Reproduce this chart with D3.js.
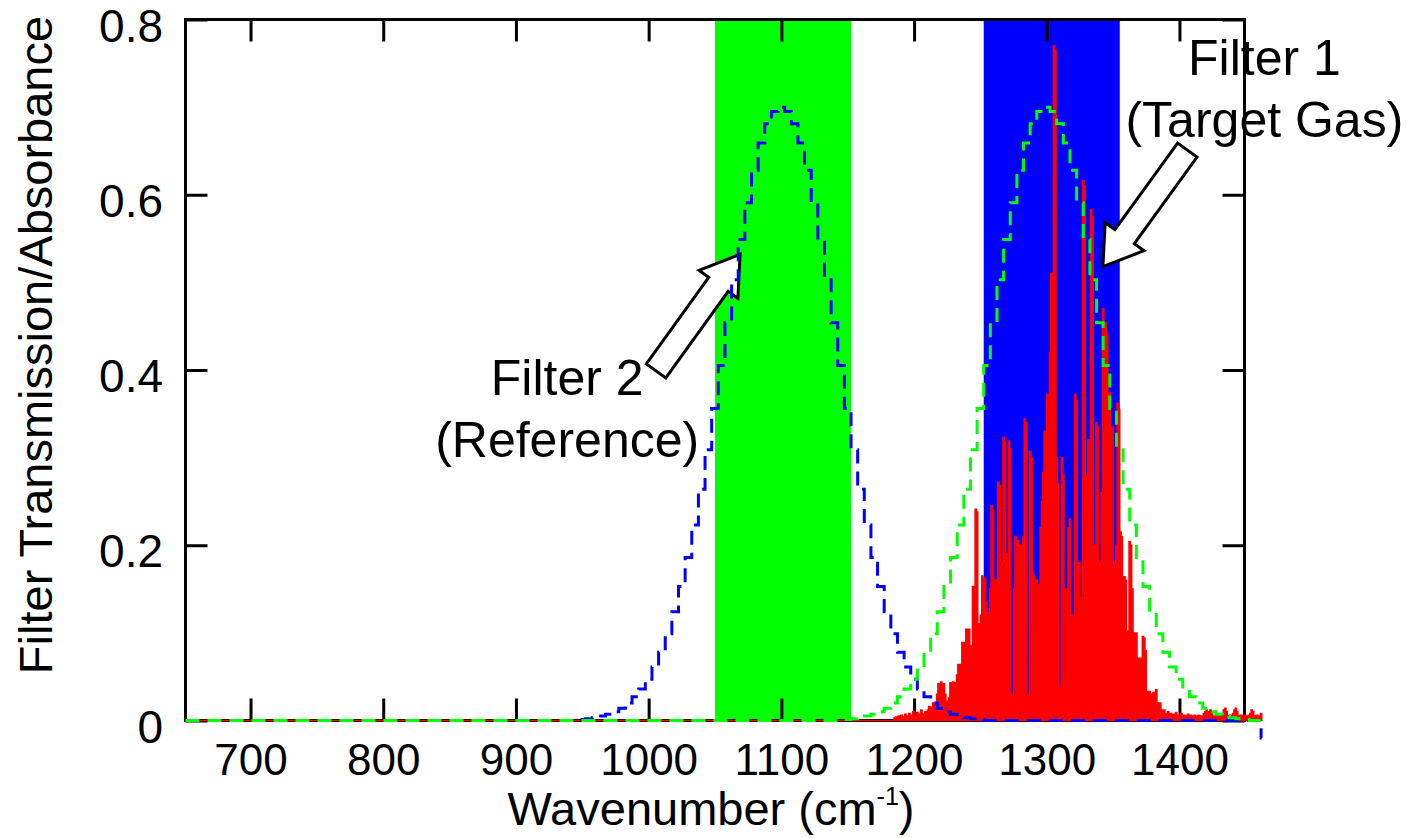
<!DOCTYPE html>
<html>
<head>
<meta charset="utf-8">
<script src="https://cdn.jsdelivr.net/npm/d3@7"></script>
<style>
  html, body { margin: 0; padding: 0; background: #fff; }
  svg { display: block; font-family: "Liberation Sans", Arial, sans-serif; }
</style>
</head>
<body>
<svg id="chart" width="1417" height="838"></svg>
<script>
// ---- data ----
const xTicks = [700, 800, 900, 1000, 1100, 1200, 1300, 1400];
const yTicks = [0, 0.2, 0.4, 0.6, 0.8];
const yTickLabels = ["0", "0.2", "0.4", "0.6", "0.8"];

// filter pass bands (cm-1)
const bandStart = [1050, 1252.5];
const bandEnd = [1152.5, 1355];
const bandColors = ["#00ff00", "#0000ff"];

// filter transmission curves: same profile, two centres
const filterCenters = [1100, 1300];
const filterColors = ["#0000ff", "#00ff00"];
const filterEndValues = [-0.02, 0];
const filterOffsets = [-155, -150, -145, -140, -135, -130, -125, -120, -115, -110, -105, -100,
  -95, -90, -85, -80, -75, -70, -65, -60, -55, -50, -45, -40, -35, -30, -25, -20, -15, -10, -5,
  0, 5, 10, 15, 20, 25, 30, 35, 40, 45, 50, 55, 60, 65, 70, 75, 80, 85, 90, 95,
  100, 105, 110, 115, 120, 125, 130, 135, 140, 145, 150, 155];
const filterProfile = [0.000, 0.001, 0.002, 0.003, 0.005, 0.007, 0.010, 0.014, 0.020, 0.027, 0.036, 0.047,
  0.061, 0.078, 0.099, 0.124, 0.153, 0.186, 0.223, 0.264, 0.309, 0.356, 0.405, 0.454, 0.503, 0.549,
  0.591, 0.628, 0.659, 0.681, 0.695, 0.700, 0.695, 0.681, 0.659, 0.628, 0.591, 0.549, 0.503, 0.454,
  0.405, 0.356, 0.309, 0.264, 0.223, 0.186, 0.153, 0.124, 0.099, 0.078, 0.061, 0.047, 0.036, 0.027,
  0.020, 0.014, 0.010, 0.007, 0.005, 0.003, 0.002, 0.001, 0.000];

// target gas absorbance, 1 cm-1 steps from 1185 cm-1
const spectrumStart = 1185;
const spectrumValues = [
  0.003, 0.004, 0.002, 0.005, 0.003, 0.006, 0.004, 0.003, 0.007, 0.005,
  0.004, 0.008, 0.005, 0.006, 0.010, 0.006, 0.005, 0.009, 0.007, 0.006,
  0.012, 0.008, 0.007, 0.010, 0.009,
  0.012, 0.016, 0.010, 0.015, 0.020, 0.014, 0.018, 0.030, 0.042, 0.035,
  0.044, 0.038, 0.042, 0.030, 0.020, 0.022, 0.026, 0.043, 0.036, 0.044,
  0.040, 0.043, 0.052, 0.064, 0.055, 0.064, 0.089, 0.075, 0.089, 0.104,
  0.098, 0.104, 0.070, 0.085, 0.153, 0.120, 0.241, 0.238, 0.110, 0.089,
  0.120, 0.165, 0.150, 0.162, 0.135, 0.123, 0.118, 0.150, 0.245, 0.240,
  0.160, 0.150, 0.160, 0.272, 0.268, 0.170, 0.180, 0.323, 0.318, 0.190,
  0.180, 0.319, 0.310, 0.030, 0.020, 0.150, 0.210, 0.205, 0.205, 0.060,
  0.200, 0.195, 0.210, 0.344, 0.340, 0.030, 0.025, 0.307, 0.300, 0.170,
  0.165, 0.100, 0.160, 0.155, 0.030, 0.220, 0.250, 0.283, 0.330, 0.300,
  0.372, 0.365, 0.420, 0.510, 0.505, 0.770, 0.765, 0.300, 0.270, 0.040,
  0.030, 0.300, 0.280, 0.030, 0.150, 0.040, 0.220, 0.230, 0.030, 0.120,
  0.050, 0.372, 0.365, 0.040, 0.180, 0.140, 0.040, 0.616, 0.610, 0.030,
  0.280, 0.320, 0.040, 0.583, 0.575, 0.030, 0.200, 0.340, 0.335, 0.040,
  0.180, 0.260, 0.470, 0.300, 0.454, 0.440, 0.200, 0.374, 0.240, 0.335,
  0.180, 0.120, 0.200, 0.362, 0.355, 0.215, 0.210, 0.120, 0.164, 0.160,
  0.102, 0.100, 0.204, 0.200, 0.150, 0.100, 0.095, 0.100, 0.071, 0.065,
  0.071, 0.060, 0.096, 0.094, 0.080, 0.033, 0.030, 0.033, 0.030, 0.020,
  0.032, 0.028, 0.035, 0.020, 0.015, 0.020, 0.012, 0.010, 0.012, 0.008,
  0.006, 0.010, 0.005, 0.008, 0.004, 0.007, 0.005, 0.009, 0.004, 0.006,
  0.005, 0.008, 0.004, 0.006, 0.005, 0.004, 0.007, 0.004, 0.006, 0.005,
  0.004, 0.006, 0.005, 0.004, 0.006, 0.005, 0.004, 0.005, 0.008, 0.010,
  0.012, 0.010, 0.006, 0.012, 0.008, 0.005, 0.004, 0.006, 0.005, 0.004,
  0.005, 0.004, 0.008, 0.012, 0.014, 0.010, 0.005, 0.004, 0.006, 0.005,
  0.008, 0.012, 0.014, 0.010, 0.005, 0.004, 0.006, 0.005, 0.004, 0.006,
  0.005, 0.004, 0.006, 0.008, 0.012, 0.010, 0.005, 0.004, 0.006, 0.005,
  0.004, 0.008, 0.003];

// annotations: text lines, text anchor, arrow tail and tip (data units)
const noteLines = [["Filter 1", "(Target Gas)"], ["Filter 2", "(Reference)"]];
const noteAnchors = [[1464, 0.737], [938.6, 0.3715]];
const arrowTails = [[1405.9, 0.651], [1005.6, 0.399]];
const arrowTips = [[1342.3, 0.518], [1068.9, 0.532]];

// ---- drawing ----
const svg = d3.select("#chart");
const x = d3.scaleLinear().domain([651, 1449]).range([185.5, 1244.5]);
const y = d3.scaleLinear().domain([0, 0.8]).range([720.5, 19.5]);
const tickLen = 22;

// pass bands
svg.append("g")
    .selectAll("rect")
    .data(bandStart)
    .enter().append("rect")
    .attr("x", function(d) { return x(d); })
    .attr("y", y(0.8))
    .attr("width", function(d, i) { return x(bandEnd[i]) - x(d); })
    .attr("height", y(0) - y(0.8))
    .attr("fill", function(d, i) { return bandColors[i]; });

// frame and inward ticks on all four sides
function styleAxis(g) {
    g.select(".domain").remove();
    g.selectAll(".tick line").attr("stroke", "#000").attr("stroke-width", 3);
    g.attr("font-family", null).attr("font-size", 46);
    g.selectAll("text").attr("fill", "#000");
}

svg.append("g")
    .attr("transform", `translate(0,${y(0)})`)
    .call(d3.axisBottom(x).tickValues(xTicks).tickSize(-tickLen).tickPadding(23).tickFormat(d3.format("d")))
    .call(styleAxis)
    .attr("font-size", 44);

svg.append("g")
    .attr("transform", `translate(0,${y(0.8)})`)
    .call(d3.axisTop(x).tickValues(xTicks).tickSize(-tickLen).tickFormat(""))
    .call(styleAxis);

svg.append("g")
    .attr("transform", `translate(${x.range()[0]},0)`)
    .call(d3.axisLeft(y).tickValues(yTicks).tickSize(-tickLen).tickPadding(22.5)
        .tickFormat(function(d, i) { return yTickLabels[i]; }))
    .call(styleAxis)
    .call(g => g.selectAll("text").attr("y", 7));

svg.append("g")
    .attr("transform", `translate(${x.range()[1]},0)`)
    .call(d3.axisRight(y).tickValues(yTicks).tickSize(-tickLen).tickFormat(""))
    .call(styleAxis);

svg.append("rect")
    .attr("x", x.range()[0])
    .attr("y", y(0.8))
    .attr("width", x.range()[1] - x.range()[0])
    .attr("height", y(0) - y(0.8))
    .attr("fill", "none")
    .attr("stroke", "#000")
    .attr("stroke-width", 3);

// absorbance spectrum
let spectrum = [[651, 0]];
spectrumValues.forEach(function(v, i) { spectrum.push([spectrumStart + i, v]); });

svg.append("path")
    .datum(spectrum)
    .attr("fill", "#ff0000")
    .attr("stroke", "#ff0000")
    .attr("stroke-width", 1.5)
    .attr("d", d3.area()
        .curve(d3.curveStepAfter)
        .x(function(d) { return x(d[0]); })
        .y0(y(0))
        .y1(function(d) { return y(d[1]); }));

// block arrows
function blockArrow(tail, tip) {
    let x0 = x(tail[0]), y0 = y(tail[1]), x1 = x(tip[0]), y1 = y(tip[1]);
    let len = Math.hypot(x1 - x0, y1 - y0);
    let ux = (x1 - x0) / len, uy = (y1 - y0) / len;
    let nx = -uy, ny = ux;
    let sw = 12, hw = 24, hl = 37;
    let bx = x1 - ux * hl, by = y1 - uy * hl;
    let pts = [
        [x0 + nx * sw, y0 + ny * sw], [bx + nx * sw, by + ny * sw], [bx + nx * hw, by + ny * hw],
        [x1, y1],
        [bx - nx * hw, by - ny * hw], [bx - nx * sw, by - ny * sw], [x0 - nx * sw, y0 - ny * sw]
    ];
    return "M" + pts.join("L") + "Z";
}

svg.append("g")
    .selectAll("path")
    .data(arrowTails)
    .enter().append("path")
    .attr("d", function(d, i) { return blockArrow(d, arrowTips[i]); })
    .attr("fill", "#fff")
    .attr("stroke", "#000")
    .attr("stroke-width", 3)
    .attr("stroke-linejoin", "miter");

// filter transmission curves (dashed)
const filterLine = d3.line()
    .curve(d3.curveStep)
    .x(function(d) { return x(d[0]); })
    .y(function(d) { return y(d[1]); });

filterCenters.forEach(function(c, k) {
    let pts = [[651, 0]];
    filterOffsets.forEach(function(o, i) { pts.push([c + o, filterProfile[i]]); });
    pts.push([1461, 0]);
    pts.push([1462, filterEndValues[k]]);
    svg.append("path")
        .datum(pts)
        .attr("fill", "none")
        .attr("stroke", filterColors[k])
        .attr("stroke-width", 3)
        .attr("stroke-dasharray", "14,8")
        .attr("d", filterLine);
});

// annotation text
noteLines.forEach(function(lines, k) {
    let t = svg.append("text")
        .attr("x", x(noteAnchors[k][0]))
        .attr("y", y(noteAnchors[k][1]))
        .attr("text-anchor", "middle")
        .attr("font-size", 50)
        .attr("fill", "#000");
    lines.forEach(function(s, j) {
        t.append("tspan")
            .attr("x", x(noteAnchors[k][0]))
            .attr("dy", j === 0 ? 0 : 62)
            .text(s);
    });
});

// axis titles
let xt = svg.append("text")
    .attr("x", 711)
    .attr("y", 825)
    .attr("text-anchor", "middle")
    .attr("font-size", 47)
    .attr("fill", "#000");
xt.append("tspan").text("Wavenumber (cm");
xt.append("tspan").attr("font-size", 25).attr("dy", -20).text("-1");
xt.append("tspan").attr("dy", 20).text(")");

svg.append("text")
    .attr("transform", "translate(52,345) rotate(-90)")
    .attr("text-anchor", "middle")
    .attr("font-size", 47)
    .attr("fill", "#000")
    .text("Filter Transmission/Absorbance");
</script>
</body>
</html>
